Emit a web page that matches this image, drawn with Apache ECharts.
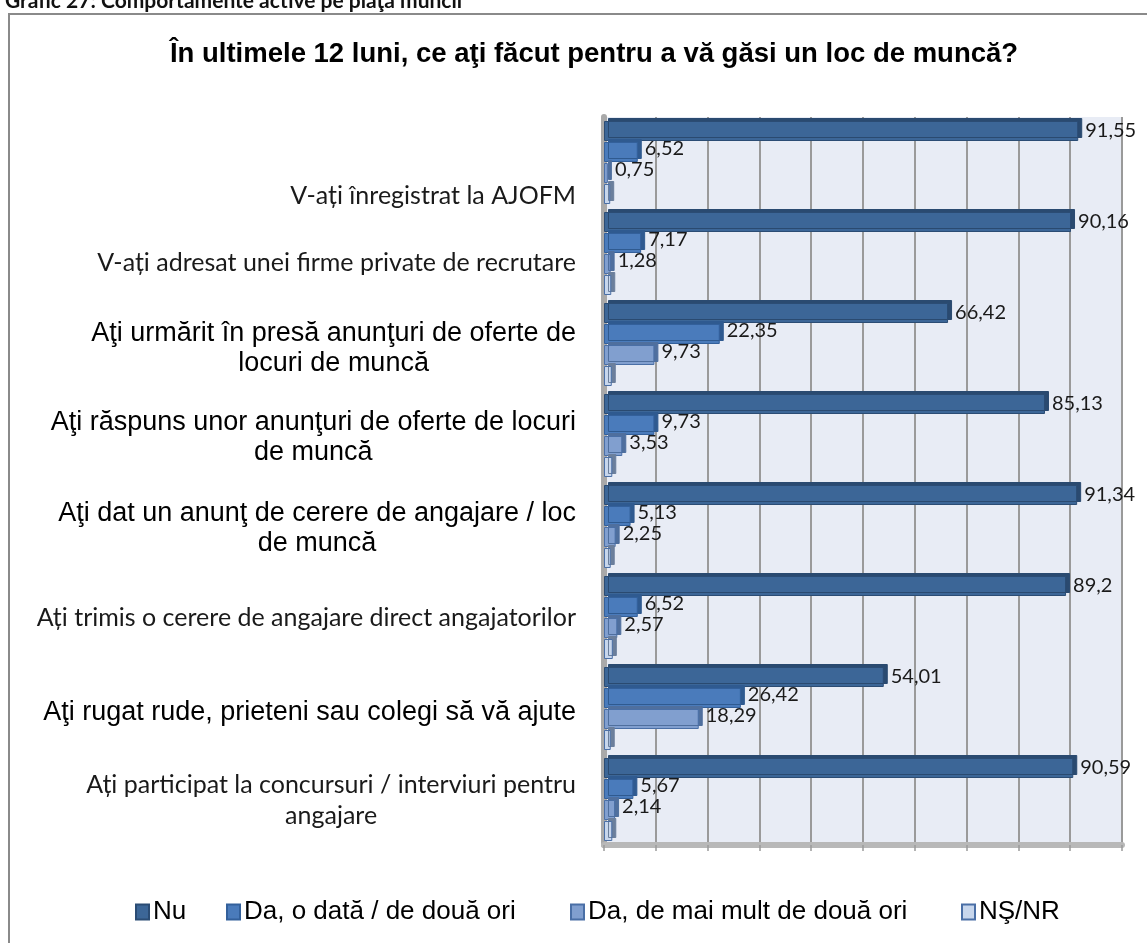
<!DOCTYPE html>
<html>
<head>
<meta charset="utf-8">
<title>Grafic 27</title>
<script src="https://cdn.jsdelivr.net/npm/echarts@6/dist/echarts.min.js"></script>
<style>
  html, body { margin: 0; padding: 0; background: #fff; }
  #chart { width: 1147px; height: 943px; }
</style>
</head>
<body>
<div id="chart"></div>
<script type="text/javascript">
// categories (top to bottom), with the line breaks seen in the picture
var categories = [
    'V-ați înregistrat la AJOFM',
    'V-ați adresat unei firme private de recrutare',
    'Aţi urmărit în presă anunţuri de oferte de\nlocuri de muncă',
    'Aţi răspuns unor anunţuri de oferte de locuri\nde muncă',
    'Aţi dat un anunţ de cerere de angajare / loc\nde muncă',
    'Ați trimis o cerere de angajare direct angajatorilor',
    'Aţi rugat rude, prieteni sau colegi să vă ajute',
    'Ați participat la concursuri / interviuri pentru\nangajare'
];
// which labels use the narrow (Calibri-like) face, and their vertical shift
var labelFace = ['c', 'c', 'a', 'a', 'a', 'c', 'a', 'c'];
var labelShift = [33, 9, 4, 2, 2, 0, 4, 1];

var seriesNames = ['Nu', 'Da, o dată / de două ori', 'Da, de mai mult de două ori', 'NŞ/NR'];
var nu = [91.55, 90.16, 66.42, 85.13, 91.34, 89.2, 54.01, 90.59];
var oData = [6.52, 7.17, 22.35, 9.73, 5.13, 6.52, 26.42, 5.67];
var maiMult = [0.75, 1.28, 9.73, 3.53, 2.25, 2.57, 18.29, 2.14];
var nsnr = [1.2, 1.4, 1.5, 1.6, 1.3, 1.7, 1.3, 1.6];

var fills = ['#3c6697', '#4a7bbb', '#819fcf', '#c7d6ec'];
var borders = ['#2b4c74', '#33609b', '#4a6fa6', '#4a6fa6'];
var sides = ['#2a4a70', '#2f5a90', '#4f6f9e', '#6b7f9c'];
var legendLeft = [130, 221, 565, 956];

var dom = document.getElementById('chart');
var myChart = echarts.init(dom);

function fmt(v) {
    return String(v).replace('.', ',');
}

function makeSeries(i, data, showLabel, labelDy) {
    return {
        name: seriesNames[i],
        type: 'bar',
        data: data,
        barWidth: 20,
        barGap: '5%',
        itemStyle: {
            color: fills[i],
            borderColor: borders[i],
            borderWidth: 1,
            shadowColor: sides[i],
            shadowOffsetX: 4,
            shadowOffsetY: -3,
            shadowBlur: 0
        },
        label: {
            show: showLabel,
            position: 'right',
            distance: 7,
            offset: [0, labelDy],
            fontFamily: 'Lato',
            fontSize: 20,
            color: '#1a1a1a',
            formatter: function (p) { return fmt(p.value); }
        },
        emphasis: { disabled: true }
    };
}

var option = {
    animation: false,
    backgroundColor: '#ffffff',
    title: [
        {
            text: 'Grafic 27: Comportamente active pe piaţa muncii',
            left: 0,
            top: -14,
            textStyle: { fontFamily: 'Lato', fontWeight: 'bold', fontSize: 21, color: '#111' }
        },
        {
            text: 'În ultimele 12 luni, ce aţi făcut pentru a vă găsi un loc de muncă?',
            left: 589,
            textAlign: 'center',
            top: 35,
            textStyle: { fontFamily: 'Liberation Sans', fontWeight: 'bold', fontSize: 27.5, color: '#000' }
        }
    ],
    graphic: [
        {
            type: 'rect',
            shape: { x: 9, y: 14, width: 1160, height: 960 },
            style: { fill: 'none', stroke: '#8a8a8a', lineWidth: 2 },
            silent: true
        }
    ],
    legend: seriesNames.map(function (name, i) {
        return {
            data: [name],
            left: legendLeft[i],
            top: 894,
            itemWidth: 13,
            itemHeight: 15,
            itemGap: 6,
            icon: 'rect',
            textStyle: { fontFamily: 'Liberation Sans', fontSize: 26, color: '#000', padding: [0, 0, 0, -1] },
            selectedMode: false
        };
    }),
    grid: {
        left: 604,
        right: 25,
        top: 117,
        bottom: 98,
        show: true,
        backgroundColor: '#e8ecf5',
        borderWidth: 0
    },
    xAxis: {
        type: 'value',
        min: 0,
        max: 100,
        interval: 10,
        axisLabel: { show: false },
        axisLine: { show: true, lineStyle: { color: '#b8b8b8', width: 6 } },
        axisTick: { show: true, length: 6, lineStyle: { color: '#9a9a9a', width: 1.5 } },
        splitLine: { show: true, lineStyle: { color: '#9a9a9a', width: 2 } }
    },
    yAxis: {
        type: 'category',
        inverse: true,
        axisTick: { show: false },
        axisLine: { show: true, lineStyle: { color: '#a9a9a9', width: 6 } },
        axisLabel: {
            margin: 28,
            formatter: function (value, index) {
                var face = labelFace[index];
                return value.split('\n').map(function (l) {
                    return '{' + face + '|' + l + '}';
                }).join('\n');
            },
            rich: {
                c: { fontFamily: 'Lato', fontSize: 25, color: '#1a1a1a', align: 'center', lineHeight: 31 },
                a: { fontFamily: 'Liberation Sans', fontSize: 27, color: '#000', align: 'center', lineHeight: 30 }
            }
        },
        // vertical shift of each axis label as in the picture
        data: categories.map(function (c, i) {
            var s = labelShift[i];
            return {
                value: c,
                textStyle: { padding: s >= 0 ? [s * 2, 0, 0, 0] : [0, 0, -s * 2, 0] }
            };
        })
    },
    series: [
        makeSeries(0, nu, true, 0),
        makeSeries(1, oData, true, -3),
        makeSeries(2, maiMult, true, -3),
        makeSeries(3, nsnr, false, 0)
    ]
};

myChart.setOption(option, true);
</script>
</body>
</html>
